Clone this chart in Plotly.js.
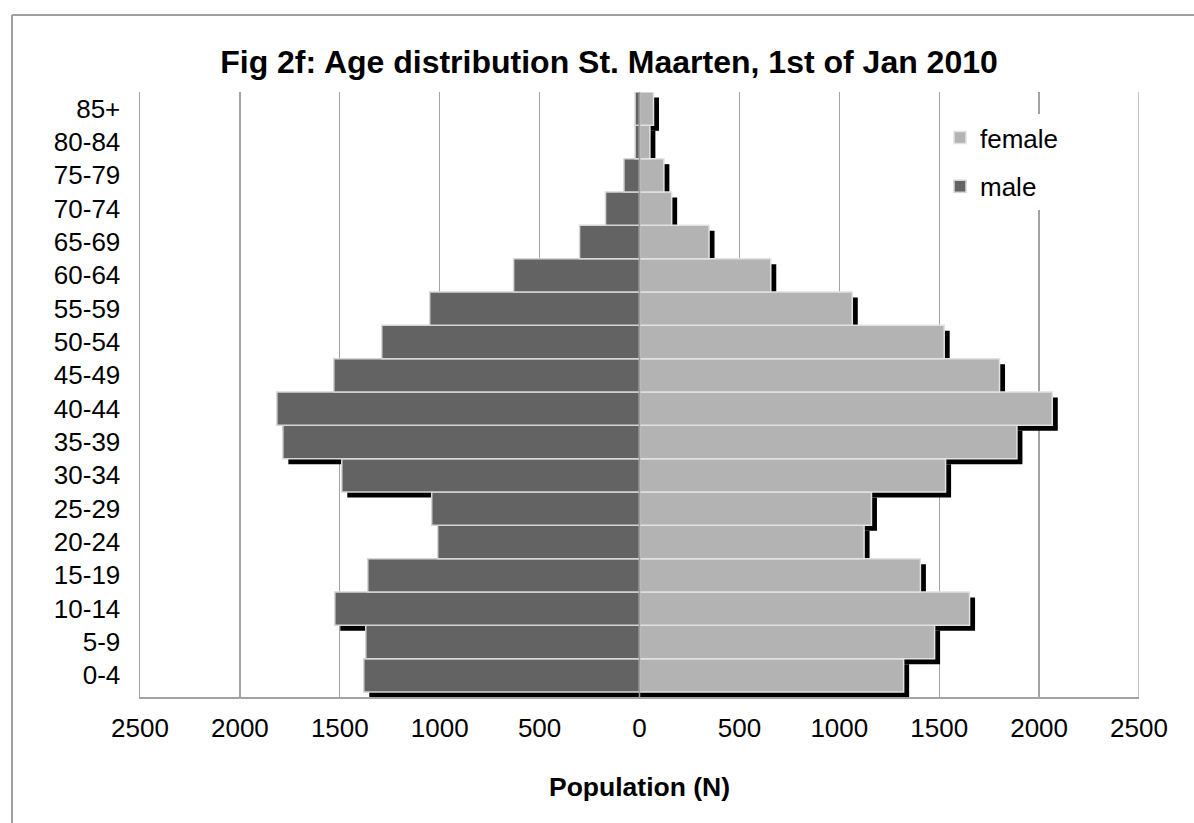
<!DOCTYPE html>
<html>
<head>
<meta charset="utf-8">
<script src="https://cdn.plot.ly/plotly-3.0.1.min.js"></script>
<style>
html,body{margin:0;padding:0;background:#fff;}
#chart{width:1194px;height:823px;}
</style>
</head>
<body>
<div id="chart"></div>
<script>
// ---- data ----
const ageGroups = ['0-4','5-9','10-14','15-19','20-24','25-29','30-34','35-39','40-44','45-49','50-54','55-59','60-64','65-69','70-74','75-79','80-84','85+'];
const maleValues = [1380,1370,1525,1360,1010,1040,1490,1785,1815,1530,1290,1050,630,300,170,78,22,22];
const femaleValues = [1322,1477,1652,1406,1124,1161,1532,1889,2066,1802,1525,1065,657,348,161,122,52,70];
const xTickVals = [-2500,-2000,-1500,-1000,-500,0,500,1000,1500,2000,2500];
const xTickText = ['2500','2000','1500','1000','500','0','500','1000','1500','2000','2500'];

// ---- style ----
const FONT = 'Liberation Sans, Arial, sans-serif';
const SHADOW_DX = 27.5;   // drop-shadow shift along x (data units ~5.5px)
const SHADOW_DY = 0.165;  // drop-shadow shift along y (category units ~5.5px)
const maleNeg = maleValues.map(v => -v);

const shadowMale = {
  type: 'bar', orientation: 'h', y: ageGroups, x: maleNeg, base: SHADOW_DX,
  width: 1, offset: -0.5 - SHADOW_DY,
  marker: {color: '#000000', line: {width: 0}},
  showlegend: false, hoverinfo: 'skip'
};
const shadowFemale = {
  type: 'bar', orientation: 'h', y: ageGroups, x: femaleValues, base: SHADOW_DX,
  width: 1, offset: -0.5 - SHADOW_DY,
  marker: {color: '#000000', line: {width: 0}},
  showlegend: false, hoverinfo: 'skip'
};
const femaleTrace = {
  type: 'bar', orientation: 'h', name: 'female', legendgroup: 'f',
  y: ageGroups, x: femaleValues, width: 1, offset: -0.5,
  marker: {color: '#b3b3b3', line: {color: '#e2e2e2', width: 1.5}}
};
const maleTrace = {
  type: 'bar', orientation: 'h', name: 'male', legendgroup: 'm',
  y: ageGroups, x: maleNeg, width: 1, offset: -0.5,
  marker: {color: '#636363', line: {color: '#d6d6d6', width: 1.5}}
};

const L = 140, R = 55, T = 92, B = 126;
const PW = 1194 - L - R, PH = 823 - T - B;
const px = v => (v - L) / PW;
const py = v => (823 - B - v) / PH;

const layout = {
  width: 1194, height: 823,
  margin: {l: L, r: R, t: T, b: B, pad: 0},
  paper_bgcolor: '#ffffff', plot_bgcolor: '#ffffff',
  barmode: 'overlay',
  font: {family: FONT, color: '#000000', size: 26},
  title: {
    text: '<b>Fig 2f: Age distribution St. Maarten, 1st of Jan 2010</b>',
    font: {family: FONT, size: 32, color: '#000000'},
    x: 609 / 1194, xref: 'container', xanchor: 'center',
    y: 1 - 62 / 823, yref: 'container', yanchor: 'middle'
  },
  xaxis: {
    range: [-2500, 2500], tickvals: xTickVals, ticktext: xTickText,
    showgrid: true, gridcolor: '#a3a3a3', gridwidth: 1.3,
    zeroline: false, showline: true, linecolor: '#a3a3a3', linewidth: 1.5,
    ticks: '', tickfont: {family: FONT, size: 26, color: '#000'},
    ticklabelstandoff: 7,
    title: {text: '<b>Population (N)</b>', font: {family: FONT, size: 26.5, color: '#000'}, standoff: 35},
    fixedrange: true
  },
  yaxis: {
    type: 'category', categoryorder: 'array', categoryarray: ageGroups,
    range: [-0.65, 17.5],
    showgrid: false, zeroline: false, showline: true, linecolor: '#a3a3a3', linewidth: 1.5,
    ticks: '', tickfont: {family: FONT, size: 26, color: '#000'},
    ticklabelstandoff: 13,
    fixedrange: true
  },
  legend: {
    x: px(940), y: py(114), xanchor: 'left', yanchor: 'top',
    bgcolor: '#ffffff', borderwidth: 0,
    font: {family: FONT, size: 26, color: '#000'},
    traceorder: 'grouped', tracegroupgap: 12
  },
  shapes: [
    {type: 'line', xref: 'x', yref: 'paper', x0: 0, x1: 0, y0: 0, y1: 1, layer: 'above',
     line: {color: '#9a9a9a', width: 1.5}},
    {type: 'line', xref: 'x', yref: 'paper', x0: 2500, x1: 2500, y0: 0, y1: 1, layer: 'below',
     line: {color: '#a3a3a3', width: 1.3}},
    {type: 'line', xref: 'paper', yref: 'paper', x0: px(12), x1: px(12), y0: py(15), y1: py(840), layer: 'above',
     line: {color: '#a0a0a0', width: 2}},
    {type: 'line', xref: 'paper', yref: 'paper', x0: px(12), x1: px(1210), y0: py(15), y1: py(15), layer: 'above',
     line: {color: '#a0a0a0', width: 2}}
  ],
  showlegend: true,
  hovermode: false
};

Plotly.newPlot('chart', [shadowMale, shadowFemale, femaleTrace, maleTrace], layout, {displayModeBar: false, staticPlot: true});
</script>
</body>
</html>
